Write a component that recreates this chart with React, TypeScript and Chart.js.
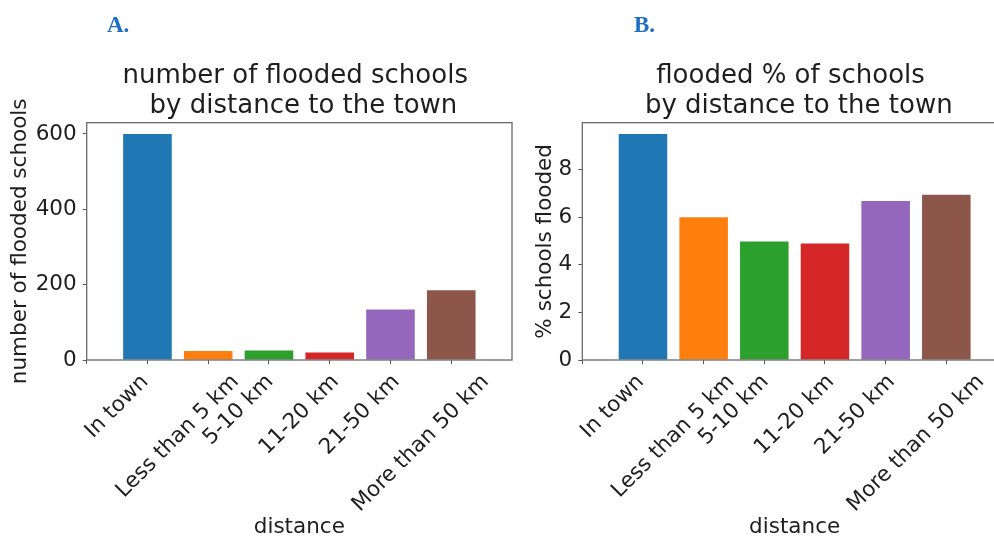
import React, { useEffect, useRef } from 'react';
import { Chart, registerables } from 'chart.js';

Chart.register(...registerables);

// ---------- data ----------
const categories = ['In town', 'Less than 5 km', '5-10 km', '11-20 km', '21-50 km', 'More than 50 km'];
const floodedCounts = [600, 24, 25, 20, 134, 185];
const floodedPercent = [9.5, 6.0, 4.98, 4.9, 6.68, 6.95];
const barColors = ['#1f77b4', '#ff7f0e', '#2ca02c', '#d62728', '#9467bd', '#8c564b'];
const yTicksA = [0, 200, 400, 600];
const yTicksB = [0, 2, 4, 6, 8];
const titleA = ['number of flooded schools ', ' by distance to the town'];
const titleB = ['flooded % of schools ', ' by distance to the town'];
const yLabelA = 'number of flooded schools';
const yLabelB = '% schools flooded';
const xLabel = 'distance';

const FONT = '"DejaVu Sans", "Liberation Sans", sans-serif';
const TEXT = '#1e1e1e';
const FS = 21.5;

Chart.defaults.font.family = FONT;

const framePlugin = {
  id: 'frame',
  afterDatasetsDraw(chart: any) {
    const { ctx, chartArea } = chart;
    ctx.save();
    ctx.strokeStyle = '#6a6a6a';
    ctx.lineWidth = 1.3;
    ctx.strokeRect(chartArea.left, chartArea.top, chartArea.right - chartArea.left, chartArea.bottom - chartArea.top);
    ctx.restore();
  },
};

const rotatedLabelsPlugin = {
  id: 'rotatedLabels',
  afterDraw(chart: any) {
    const xs = chart.scales.x;
    const ctx = chart.ctx;
    ctx.save();
    ctx.font = `${FS}px ${FONT}`;
    ctx.fillStyle = TEXT;
    ctx.textAlign = 'center';
    ctx.textBaseline = 'middle';
    xs.ticks.forEach((t: any, i: number) => {
      const label = categories[i];
      if (!label) return;
      const w = ctx.measureText(label).width;
      const half = (Math.SQRT1_2 * (w + FS)) / 2;
      const cx = xs.getPixelForValue(t.value);
      const cy = chart.chartArea.bottom + 11 + half;
      ctx.save();
      ctx.translate(cx, cy);
      ctx.rotate(-Math.PI / 4);
      ctx.fillText(label, 0, 0);
      ctx.restore();
    });
    ctx.restore();
  },
};

type PanelProps = {
  left: number;
  width: number;
  values: number[];
  yMax: number;
  yTicks: number[];
  title: string[];
  yLabel: string;
  yAxisWidth: number;
  padRight: number;
  yTitlePad: number;
};

function Panel(p: PanelProps) {
  const ref = useRef<HTMLCanvasElement | null>(null);
  useEffect(() => {
    if (!ref.current) return;
    const chart = new Chart(ref.current, {
      type: 'bar',
      data: {
        datasets: [
          {
            data: p.values.map((v, i) => ({ x: i, y: v })),
            backgroundColor: barColors,
            borderWidth: 0,
            barPercentage: 0.8,
            categoryPercentage: 1.0,
          },
        ],
      },
      options: {
        responsive: false,
        animation: false,
        devicePixelRatio: 1,
        layout: { padding: { left: 0, right: p.padRight, top: 0, bottom: 0 } },
        plugins: {
          legend: { display: false },
          tooltip: { enabled: false },
          title: {
            display: true,
            text: p.title,
            fullSize: false,
            color: TEXT,
            font: { size: 26, family: FONT, weight: 'normal', lineHeight: 1.18 },
            padding: { top: 60.6, bottom: 0.7 },
          },
        },
        scales: {
          x: {
            type: 'linear',
            min: -1,
            max: 6,
            offset: false,
            afterBuildTicks: (axis: any) => {
              axis.ticks = categories.map((_, i) => ({ value: i - 0.5 }));
            },
            afterFit: (axis: any) => {
              axis.height = 179;
            },
            ticks: { display: false },
            grid: {
              display: true,
              drawOnChartArea: false,
              drawTicks: true,
              tickLength: 4,
              color: '#555',
            },
            border: { display: false },
            title: {
              display: true,
              text: xLabel,
              color: TEXT,
              font: { size: FS, family: FONT, lineHeight: 1.06 },
              padding: { top: 0, bottom: 0 },
            },
          },
          y: {
            type: 'linear',
            min: 0,
            max: p.yMax,
            afterBuildTicks: (axis: any) => {
              axis.ticks = p.yTicks.map((v) => ({ value: v }));
            },
            afterFit: (axis: any) => {
              axis.width = p.yAxisWidth;
            },
            ticks: { color: TEXT, font: { size: FS, family: FONT }, padding: 6 },
            grid: {
              display: true,
              drawOnChartArea: false,
              drawTicks: true,
              tickLength: 4,
              color: '#555',
            },
            border: { display: false },
            title: {
              display: true,
              text: p.yLabel,
              color: TEXT,
              font: { size: FS, family: FONT, lineHeight: 1.2 },
              padding: { top: p.yTitlePad, bottom: 0 },
            },
          },
        },
      },
      plugins: [framePlugin, rotatedLabelsPlugin],
    } as any);
    return () => chart.destroy();
  }, []);
  return (
    <canvas
      ref={ref}
      width={p.width}
      height={539}
      style={{ position: 'absolute', left: p.left, top: 0, width: p.width, height: 539 }}
    />
  );
}

const letterStyle: React.CSSProperties = {
  position: 'absolute',
  top: 12.5,
  fontFamily: '"Liberation Serif", "Times New Roman", serif',
  fontWeight: 'bold',
  fontSize: 23,
  lineHeight: '23px',
  color: '#1b6ec2',
  margin: 0,
};

export default function App() {
  useEffect(() => {
    document.body.style.margin = '0';
  }, []);
  return (
    <div
      style={{
        position: 'fixed',
        left: 0,
        top: 0,
        width: 994,
        height: 539,
        overflow: 'hidden',
        background: '#ffffff',
      }}
    >
      <Panel
        left={0}
        width={520}
        values={floodedCounts}
        yMax={630}
        yTicks={yTicksA}
        title={titleA}
        yLabel={yLabelA}
        yAxisWidth={86.7}
        padRight={8}
        yTitlePad={7.7}
      />
      <Panel
        left={520}
        width={520}
        values={floodedPercent}
        yMax={9.975}
        yTicks={yTicksB}
        title={titleB}
        yLabel={yLabelB}
        yAxisWidth={62.3}
        padRight={33}
        yTitlePad={12.7}
      />
      <div style={{ ...letterStyle, left: 107 }}>A.</div>
      <div style={{ ...letterStyle, left: 634 }}>B.</div>
    </div>
  );
}
